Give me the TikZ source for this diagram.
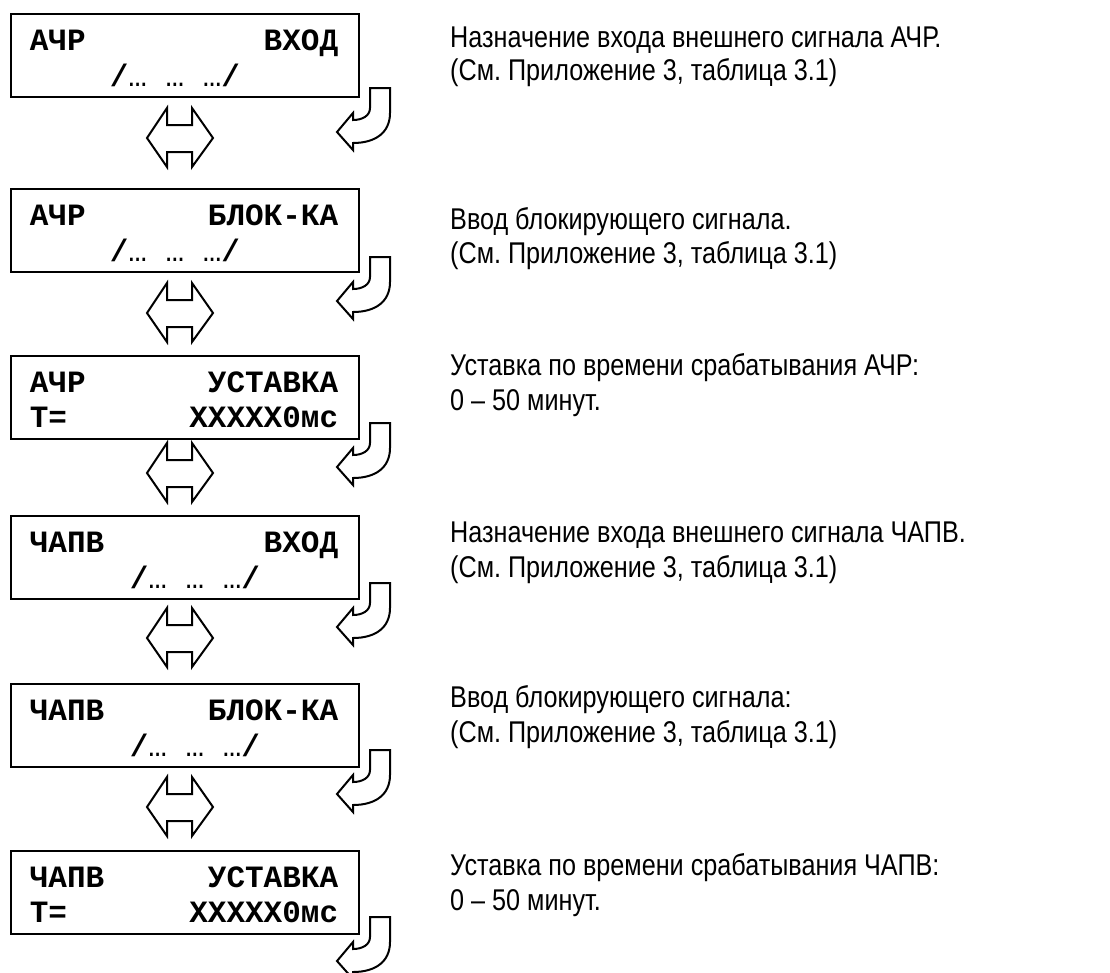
\documentclass[tikz,border=0pt]{standalone}
\usepackage{fontspec}
\setmainfont{Liberation Sans}[FakeStretch=0.84]
\newfontfamily\lcdfont{Liberation Mono}
\usetikzlibrary{calc}
\frenchspacing

\begin{document}
\begin{tikzpicture}[
  x=1pt, y=-1pt,
  lcd/.style={draw, line width=2.7pt, minimum width=348pt, minimum height=83pt, inner sep=0pt},
  row/.style={font=\lcdfont\fontsize{31}{31}\selectfont\bfseries, inner sep=0pt},
  note/.style={font=\fontsize{30}{34}\selectfont, anchor=base west, inner sep=0pt},
  outl/.style={draw, line width=2pt, line join=miter},
  swaparrow/.pic={
    \draw[outl] (-33,0) -- (-13,-30) -- (-13,-13) -- (12,-13) -- (12,-30) -- (33,0)
      -- (12,29) -- (12,14) -- (-13,14) -- (-13,29) -- cycle;
  },
  backarrow/.pic={
    \draw[outl] (0,0) -- (20,0) -- (20,25) .. controls (20,45) and (5,55) .. (-17,55)
      -- (-17,62) -- (-33,44) -- (-17,25) -- (-17,32)
      .. controls (-8,32) and (0,28) .. (0,20) -- cycle;
  }
]

\useasboundingbox (0,0) rectangle (1110,972);

\newcommand{\dotsrow}{{\bfseries/}\mdseries…\ …\ …{\bfseries/}}

% display boxes
\node[lcd] (lcd1) at (185,55.5)  {};
\node[lcd] (lcd2) at (185,230.5) {};
\node[lcd] (lcd3) at (185,397.5) {};
\node[lcd] (lcd4) at (185,557.5) {};
\node[lcd] (lcd5) at (185,725.5) {};
\node[lcd] (lcd6) at (185,892.5) {};

\node[row, anchor=base west] (l1a) at ($(lcd1.west)+(20,-5)$) {АЧР};
\node[row, anchor=base east] (r1a) at ($(lcd1.east)+(-22,-5)$) {ВХОД};
\node[row, anchor=base west] (l1b) at ($(lcd1.west)+(100,31)$) {\dotsrow};

\node[row, anchor=base west] (l2a) at ($(lcd2.west)+(20,-5)$) {АЧР};
\node[row, anchor=base east] (r2a) at ($(lcd2.east)+(-22,-5)$) {БЛОК-КА};
\node[row, anchor=base west] (l2b) at ($(lcd2.west)+(100,31)$) {\dotsrow};

\node[row, anchor=base west] (l3a) at ($(lcd3.west)+(20,-5)$) {АЧР};
\node[row, anchor=base east] (r3a) at ($(lcd3.east)+(-22,-5)$) {УСТАВКА};
\node[row, anchor=base west] (l3b) at ($(lcd3.west)+(20,30)$) {Т=};
\node[row, anchor=base east] (r3b) at ($(lcd3.east)+(-22,30)$) {XXXXX0мс};

\node[row, anchor=base west] (l4a) at ($(lcd4.west)+(20,-5)$) {ЧАПВ};
\node[row, anchor=base east] (r4a) at ($(lcd4.east)+(-22,-5)$) {ВХОД};
\node[row, anchor=base west] (l4b) at ($(lcd4.west)+(120,31)$) {\dotsrow};

\node[row, anchor=base west] (l5a) at ($(lcd5.west)+(20,-5)$) {ЧАПВ};
\node[row, anchor=base east] (r5a) at ($(lcd5.east)+(-22,-5)$) {БЛОК-КА};
\node[row, anchor=base west] (l5b) at ($(lcd5.west)+(120,31)$) {\dotsrow};

\node[row, anchor=base west] (l6a) at ($(lcd6.west)+(20,-5)$) {ЧАПВ};
\node[row, anchor=base east] (r6a) at ($(lcd6.east)+(-22,-5)$) {УСТАВКА};
\node[row, anchor=base west] (l6b) at ($(lcd6.west)+(20,30)$) {Т=};
\node[row, anchor=base east] (r6b) at ($(lcd6.east)+(-22,30)$) {XXXXX0мс};

% up/down arrows between boxes
\pic at (180,138) {swaparrow};
\pic at (180,313) {swaparrow};
\pic at (180,473) {swaparrow};
\pic at (180,638) {swaparrow};
\pic at (180,807) {swaparrow};

% enter arrows
\pic at (370,88)  {backarrow};
\pic at (370,257) {backarrow};
\pic at (370,423) {backarrow};
\pic at (370,583) {backarrow};
\pic at (370,750) {backarrow};
\pic at (370,917) {backarrow};

% descriptions
\node[note] (n1a) at (450,47)  {Назначение входа внешнего сигнала АЧР.};
\node[note] (n1b) at (450,80)  {(См. Приложение 3, таблица 3.1)};
\node[note] (n2a) at (450,229) {Ввод блокирующего сигнала.};
\node[note] (n2b) at (450,263) {(См. Приложение 3, таблица 3.1)};
\node[note] (n3a) at (450,375) {Уставка по времени срабатывания АЧР:};
\node[note] (n3b) at (450,410) {0 – 50 минут.};
\node[note] (n4a) at (450,542) {Назначение входа внешнего сигнала ЧАПВ.};
\node[note] (n4b) at (450,577) {(См. Приложение 3, таблица 3.1)};
\node[note] (n5a) at (450,707) {Ввод блокирующего сигнала:};
\node[note] (n5b) at (450,742) {(См. Приложение 3, таблица 3.1)};
\node[note] (n6a) at (450,875) {Уставка по времени срабатывания ЧАПВ:};
\node[note] (n6b) at (450,910) {0 – 50 минут.};

\end{tikzpicture}
\end{document}
